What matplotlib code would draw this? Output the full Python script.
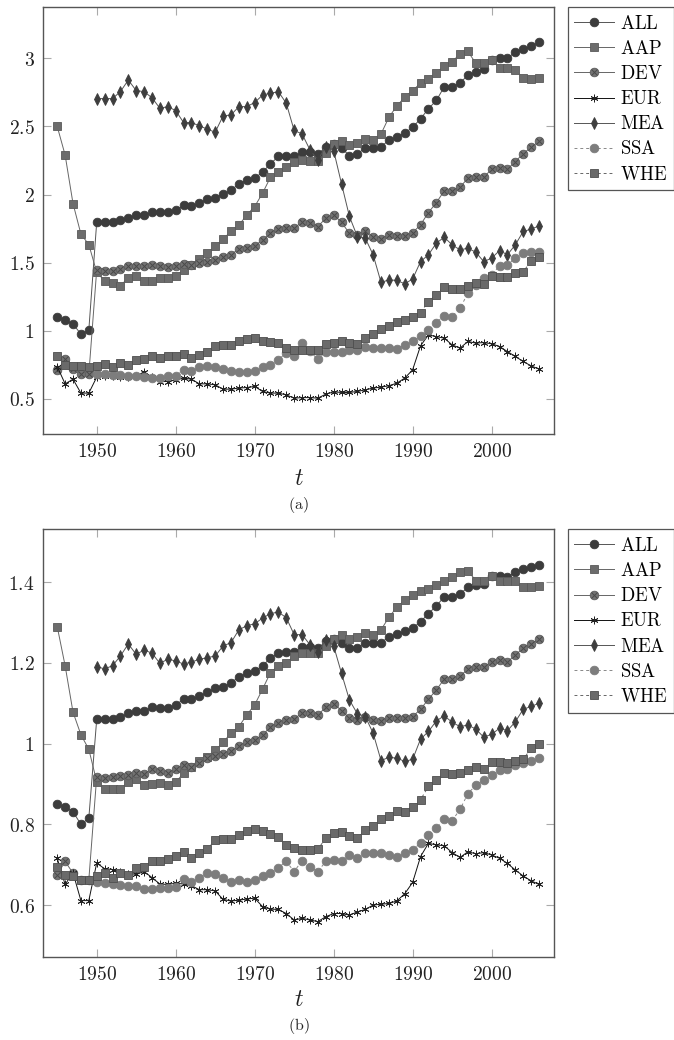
import numpy as np
import matplotlib
matplotlib.use("Agg")
import matplotlib.pyplot as plt
from matplotlib.ticker import FuncFormatter, FixedLocator
from matplotlib.legend_handler import HandlerTuple

plt.rcParams['mathtext.fontset'] = 'cm'

nan = np.nan
years = list(range(1945, 2007))

# ---- panel (a) ----
ALL_a = [1.098, 1.08, 1.05, 0.976, 1.005,
         1.797, 1.797, 1.80, 1.81, 1.83, 1.85, 1.85, 1.87, 1.87, 1.87,
         1.885, 1.92, 1.915, 1.94, 1.965, 1.975, 2.005, 2.03, 2.08, 2.105,
         2.12, 2.165, 2.225, 2.28, 2.28, 2.28, 2.31, 2.31, 2.295, 2.35,
         2.37, 2.34, 2.286, 2.30, 2.34, 2.34, 2.35, 2.40, 2.425, 2.45,
         2.494, 2.555, 2.63, 2.69, 2.79, 2.79, 2.82, 2.875, 2.90, 2.92,
         2.99, 3.0, 3.0, 3.045, 3.066, 3.09, 3.117]
AAP_a = [2.5, 2.29, 1.934, 1.71, 1.633,
         1.43, 1.367, 1.35, 1.33, 1.39, 1.40, 1.367, 1.367, 1.384, 1.39,
         1.40, 1.447, 1.484, 1.528, 1.57, 1.619, 1.672, 1.731, 1.775, 1.85,
         1.912, 2.01, 2.127, 2.169, 2.20, 2.24, 2.252, 2.247, 2.247, 2.308,
         2.37, 2.396, 2.36, 2.38, 2.41, 2.40, 2.445, 2.567, 2.65, 2.714,
         2.763, 2.817, 2.846, 2.895, 2.94, 2.976, 3.03, 3.05, 2.963, 2.968,
         2.99, 2.93, 2.93, 2.914, 2.853, 2.85, 2.853]
DEV_a = [0.71, 0.79, 0.72, 0.68, 0.68,
         1.447, 1.442, 1.442, 1.457, 1.472, 1.472, 1.472, 1.484, 1.472, 1.465,
         1.472, 1.49, 1.484, 1.496, 1.504, 1.52, 1.54, 1.56, 1.60, 1.606,
         1.623, 1.667, 1.716, 1.746, 1.753, 1.753, 1.80, 1.79, 1.765, 1.826,
         1.853, 1.795, 1.716, 1.704, 1.736, 1.687, 1.672, 1.704, 1.697, 1.697,
         1.72, 1.778, 1.868, 1.94, 2.027, 2.027, 2.054, 2.12, 2.127, 2.127,
         2.186, 2.193, 2.186, 2.242, 2.30, 2.347, 2.39]
EUR_a = [0.738, 0.611, 0.645, 0.543, 0.543,
         0.66, 0.665, 0.665, 0.66, 0.66, 0.665, 0.70, 0.66, 0.628, 0.628,
         0.64, 0.653, 0.645, 0.611, 0.611, 0.604, 0.572, 0.572, 0.58, 0.584,
         0.592, 0.555, 0.543, 0.543, 0.53, 0.506, 0.51, 0.51, 0.506, 0.535,
         0.552, 0.548, 0.548, 0.555, 0.567, 0.58, 0.587, 0.597, 0.616, 0.653,
         0.714, 0.89, 0.97, 0.958, 0.946, 0.897, 0.873, 0.922, 0.91, 0.914,
         0.905, 0.885, 0.848, 0.812, 0.775, 0.743, 0.719]
MEA_a = [nan, nan, nan, nan, nan,
         2.704, 2.704, 2.704, 2.755, 2.84, 2.763, 2.755, 2.71, 2.633, 2.645,
         2.616, 2.528, 2.528, 2.504, 2.48, 2.457, 2.577, 2.584, 2.645, 2.645,
         2.675, 2.73, 2.743, 2.755, 2.67, 2.47, 2.445, 2.328, 2.254, 2.352,
         2.323, 2.078, 1.839, 1.692, 1.68, 1.558, 1.355, 1.374, 1.37, 1.345,
         1.38, 1.508, 1.558, 1.643, 1.687, 1.631, 1.594, 1.606, 1.577, 1.508,
         1.533, 1.589, 1.558, 1.631, 1.729, 1.746, 1.77]
SSA_a = [nan, nan, nan, nan, nan,
         0.685, 0.685, 0.677, 0.677, 0.67, 0.67, 0.66, 0.657, 0.657, 0.665,
         0.67, 0.714, 0.702, 0.738, 0.743, 0.731, 0.719, 0.702, 0.697, 0.697,
         0.707, 0.738, 0.75, 0.787, 0.84, 0.818, 0.91, 0.85, 0.79, 0.848,
         0.848, 0.848, 0.86, 0.86, 0.885, 0.873, 0.873, 0.873, 0.868, 0.897,
         0.922, 0.963, 1.007, 1.061, 1.11, 1.105, 1.166, 1.276, 1.337, 1.386,
         1.41, 1.477, 1.484, 1.533, 1.57, 1.582, 1.582]
WHE_a = [0.818, 0.75, 0.743, 0.743, 0.738,
         0.743, 0.758, 0.738, 0.763, 0.75, 0.787, 0.792, 0.812, 0.80, 0.817,
         0.817, 0.829, 0.80, 0.824, 0.848, 0.89, 0.897, 0.897, 0.922, 0.939,
         0.946, 0.929, 0.917, 0.91, 0.873, 0.856, 0.856, 0.856, 0.861, 0.905,
         0.912, 0.922, 0.91, 0.902, 0.946, 0.978, 1.015, 1.032, 1.068, 1.076,
         1.105, 1.134, 1.215, 1.264, 1.325, 1.31, 1.31, 1.33, 1.35, 1.345,
         1.403, 1.398, 1.398, 1.423, 1.435, 1.509, 1.545]

# ---- panel (b) ----
ALL_b = [0.850, 0.844, 0.831, 0.80, 0.815,
         1.060, 1.061, 1.061, 1.065, 1.075, 1.082, 1.082, 1.09, 1.088, 1.088,
         1.096, 1.11, 1.11, 1.117, 1.127, 1.137, 1.141, 1.15, 1.166, 1.174,
         1.179, 1.193, 1.212, 1.224, 1.226, 1.227, 1.239, 1.239, 1.236, 1.253,
         1.259, 1.249, 1.236, 1.238, 1.25, 1.249, 1.25, 1.265, 1.271, 1.278,
         1.286, 1.302, 1.322, 1.341, 1.364, 1.364, 1.371, 1.387, 1.393, 1.396,
         1.416, 1.416, 1.412, 1.426, 1.432, 1.437, 1.443]
AAP_b = [1.29, 1.193, 1.078, 1.022, 0.986,
         0.906, 0.887, 0.887, 0.887, 0.906, 0.912, 0.898, 0.90, 0.902, 0.898,
         0.904, 0.927, 0.943, 0.956, 0.966, 0.983, 1.003, 1.026, 1.042, 1.071,
         1.096, 1.135, 1.176, 1.193, 1.20, 1.217, 1.224, 1.224, 1.224, 1.242,
         1.259, 1.27, 1.26, 1.265, 1.274, 1.27, 1.282, 1.313, 1.338, 1.355,
         1.369, 1.379, 1.383, 1.393, 1.404, 1.412, 1.424, 1.428, 1.404, 1.404,
         1.416, 1.402, 1.403, 1.402, 1.389, 1.389, 1.391]
DEV_b = [0.675, 0.708, 0.679, 0.662, 0.662,
         0.918, 0.914, 0.918, 0.92, 0.922, 0.927, 0.925, 0.937, 0.933, 0.928,
         0.937, 0.947, 0.943, 0.951, 0.964, 0.970, 0.975, 0.982, 0.994, 1.003,
         1.009, 1.022, 1.041, 1.052, 1.059, 1.06, 1.077, 1.075, 1.071, 1.09,
         1.099, 1.082, 1.063, 1.059, 1.067, 1.059, 1.055, 1.063, 1.063, 1.063,
         1.067, 1.085, 1.11, 1.133, 1.16, 1.16, 1.168, 1.184, 1.189, 1.189,
         1.203, 1.206, 1.202, 1.22, 1.236, 1.247, 1.259]
EUR_b = [0.716, 0.651, 0.68, 0.611, 0.611,
         0.704, 0.69, 0.688, 0.682, 0.678, 0.676, 0.683, 0.668, 0.652, 0.651,
         0.654, 0.652, 0.648, 0.638, 0.638, 0.635, 0.614, 0.61, 0.612, 0.615,
         0.617, 0.596, 0.59, 0.589, 0.579, 0.563, 0.567, 0.563, 0.559, 0.571,
         0.579, 0.579, 0.575, 0.583, 0.589, 0.60, 0.602, 0.604, 0.61, 0.628,
         0.656, 0.72, 0.753, 0.749, 0.747, 0.73, 0.718, 0.732, 0.727, 0.73,
         0.724, 0.716, 0.703, 0.687, 0.672, 0.66, 0.651]
MEA_b = [nan, nan, nan, nan, nan,
         1.191, 1.185, 1.193, 1.217, 1.247, 1.221, 1.232, 1.224, 1.199, 1.209,
         1.205, 1.197, 1.202, 1.209, 1.213, 1.217, 1.242, 1.25, 1.282, 1.292,
         1.297, 1.311, 1.322, 1.326, 1.312, 1.27, 1.27, 1.245, 1.226, 1.257,
         1.242, 1.174, 1.108, 1.074, 1.067, 1.026, 0.958, 0.966, 0.964, 0.956,
         0.961, 1.011, 1.03, 1.056, 1.069, 1.053, 1.042, 1.046, 1.036, 1.016,
         1.023, 1.038, 1.032, 1.054, 1.085, 1.092, 1.1]
SSA_b = [nan, nan, nan, nan, nan,
         0.658, 0.654, 0.652, 0.65, 0.646, 0.646, 0.639, 0.639, 0.641, 0.642,
         0.644, 0.664, 0.656, 0.668, 0.68, 0.677, 0.668, 0.658, 0.661, 0.658,
         0.662, 0.671, 0.679, 0.693, 0.708, 0.683, 0.71, 0.695, 0.683, 0.708,
         0.712, 0.709, 0.724, 0.716, 0.73, 0.728, 0.728, 0.724, 0.72, 0.728,
         0.736, 0.754, 0.773, 0.79, 0.812, 0.809, 0.837, 0.876, 0.897, 0.91,
         0.922, 0.934, 0.936, 0.947, 0.953, 0.958, 0.964]
WHE_b = [0.695, 0.675, 0.671, 0.662, 0.662,
         0.671, 0.68, 0.667, 0.679, 0.675, 0.691, 0.695, 0.71, 0.708, 0.713,
         0.722, 0.732, 0.716, 0.728, 0.738, 0.761, 0.763, 0.763, 0.773, 0.783,
         0.788, 0.783, 0.776, 0.768, 0.749, 0.741, 0.737, 0.737, 0.738, 0.766,
         0.779, 0.78, 0.771, 0.766, 0.785, 0.796, 0.812, 0.82, 0.833, 0.831,
         0.843, 0.861, 0.894, 0.91, 0.928, 0.924, 0.926, 0.934, 0.943, 0.936,
         0.955, 0.955, 0.951, 0.958, 0.961, 0.988, 1.0]

labels = ['ALL', 'AAP', 'DEV', 'EUR', 'MEA', 'SSA', 'WHE']
yticks_a = [0.5, 1, 1.5, 2, 2.5, 3]
yticks_b = [0.6, 0.8, 1.0, 1.2, 1.4]
xticks = [1950, 1960, 1970, 1980, 1990, 2000]

LW = 0.7
styles = {
    'ALL': dict(color='#555555', ls='-', marker='o', ms=6.2, mfc='#3c3c3c', mec='#3c3c3c'),
    'AAP': dict(color='#666666', ls='-', marker='s', ms=5.8, mfc='#6c6c6c', mec='#5a5a5a'),
    'DEV': dict(color='#666666', ls='-', marker='o', ms=6.2, mfc='#727272', mec='#5c5c5c'),
    'EUR': dict(color='#111111', ls='-', marker=(6, 2, 0), ms=5.5, mfc='#222222', mec='#222222'),
    'MEA': dict(color='#555555', ls='-', marker='d', ms=5.8, mfc='#3e3e3e', mec='#3e3e3e'),
    'SSA': dict(color='#888888', ls=(0, (3, 3)), marker='o', ms=6.2, mfc='#7d7d7d', mec='#7d7d7d'),
    'WHE': dict(color='#666666', ls=(0, (3, 3)), marker='s', ms=5.8, mfc='#6a6a6a', mec='#4e4e4e'),
}

fig = plt.figure(figsize=(6.74, 10.4), dpi=100)
W, H = 674.0, 1040.0
ax_a = fig.add_axes([43 / W, 1 - 434 / H, 511 / W, 427 / H])
ax_b = fig.add_axes([43 / W, 1 - 956.7 / H, 511 / W, 427.4 / H])


def draw(ax, series, ylim, yticks, cap, cap_y, t_y):
    handles = []
    for name, vals in zip(labels, series):
        st = styles[name]
        ln, = ax.plot(years, vals, lw=LW, mew=0.6, **st, label=name)
        h = ln
        if name == 'DEV':
            xo, = ax.plot(years, vals, ls='none', marker='x', ms=4.2, mew=0.7,
                          color='#4a4a4a')
            h = (ln, xo)
        handles.append(h)
    ax.set_xlim(1943.2, 2007.9)
    ax.set_ylim(*ylim)
    ax.xaxis.set_major_locator(FixedLocator(xticks))
    ax.yaxis.set_major_locator(FixedLocator(yticks))
    fmt = FuncFormatter(lambda v, p: r'$%g$' % round(v, 3))
    ax.xaxis.set_major_formatter(fmt)
    ax.yaxis.set_major_formatter(fmt)
    ax.tick_params(direction='in', top=True, right=True, length=6, width=0.8,
                   color='#aaaaaa', labelsize=14, labelcolor='#222222', pad=6)
    for sp in ax.spines.values():
        sp.set_color('#555555')
        sp.set_linewidth(1.0)
    leg = ax.legend(handles, labels, loc='upper left', bbox_to_anchor=(1.027, 1.0),
                    borderaxespad=0, fancybox=False, framealpha=1,
                    edgecolor='#555555', fontsize=13.5, handlelength=2.1,
                    handletextpad=0.35, labelspacing=0.33, borderpad=0.35,
                    handler_map={tuple: HandlerTuple(ndivide=1)})
    leg.get_frame().set_linewidth(0.9)
    for t in leg.get_texts():
        t.set_text(r'$\mathrm{%s}$' % t.get_text())
    fig.text(298.5 / W, 1 - t_y / H, r'$t$', ha='center', va='center',
             fontsize=17, color='#222222')
    fig.text(298.5 / W, 1 - cap_y / H, r'$\mathrm{(%s)}$' % cap, ha='center',
             va='center', fontsize=11.5, color='#222222')


draw(ax_a, [ALL_a, AAP_a, DEV_a, EUR_a, MEA_a, SSA_a, WHE_a],
     (0.243, 3.376), yticks_a, 'a', 505, 478)
draw(ax_b, [ALL_b, AAP_b, DEV_b, EUR_b, MEA_b, SSA_b, WHE_b],
     (0.472, 1.531), yticks_b, 'b', 1026, 999)

fig.savefig('out.png', dpi=100)
